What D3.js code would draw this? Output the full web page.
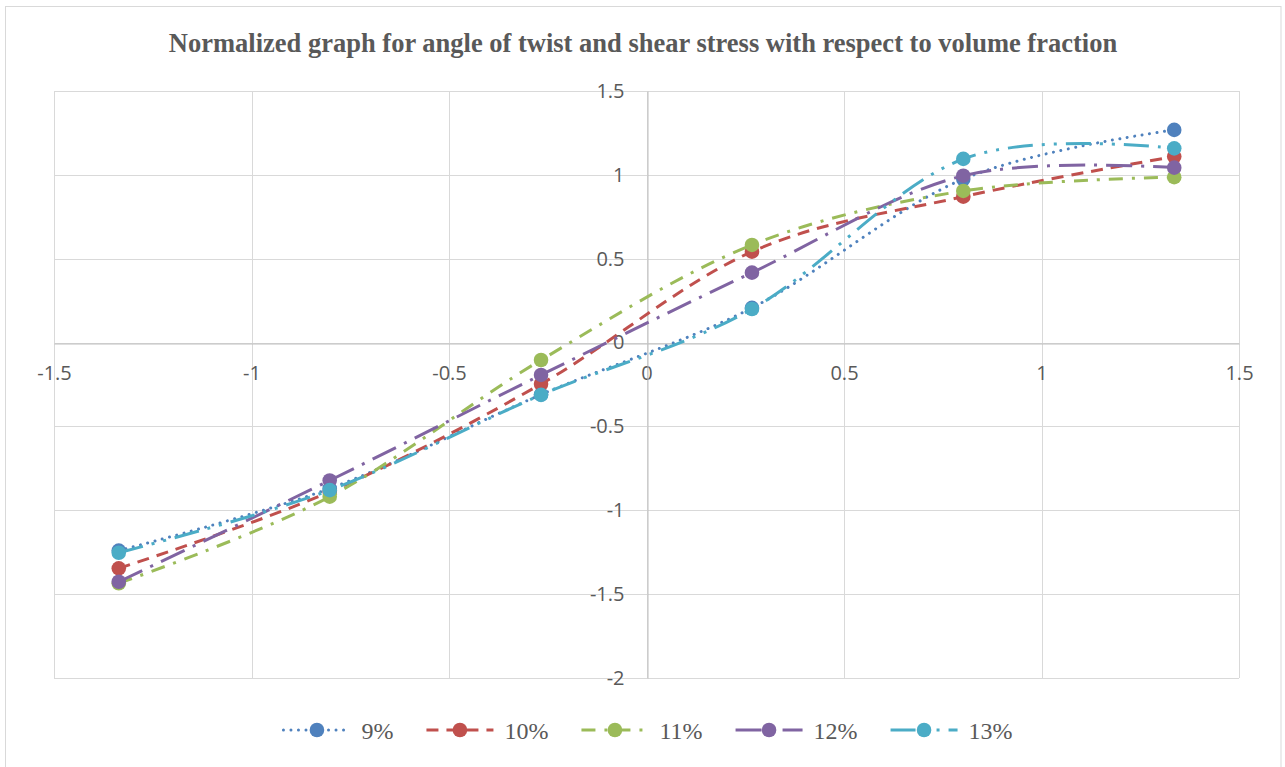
<!DOCTYPE html>
<html>
<head>
<meta charset="utf-8">
<script src="https://cdn.jsdelivr.net/npm/d3@7"></script>
<style>
  body { margin: 0; background: #fff; }
  svg { display: block; }
</style>
</head>
<body>
<div id="chart"></div>
<script>
// normalized volume fraction (shared x for every series)
const xValues = [-1.336, -0.802, -0.267, 0.267, 0.802, 1.336]

const seriesNames = ['9%', '10%', '11%', '12%', '13%']
const values9 = [-1.240, -0.870, -0.310, 0.207, 0.975, 1.268]
const values10 = [-1.346, -0.890, -0.247, 0.542, 0.870, 1.109]
const values11 = [-1.435, -0.919, -0.104, 0.582, 0.904, 0.986]
const values12 = [-1.426, -0.822, -0.193, 0.417, 0.995, 1.043]
const values13 = [-1.253, -0.880, -0.312, 0.200, 1.095, 1.158]

const xTicks = [-1.5, -1, -0.5, 0, 0.5, 1, 1.5]
const yTicks = [-2, -1.5, -1, -0.5, 0, 0.5, 1, 1.5]

const title = 'Normalized graph for angle of twist and shear stress with respect to volume fraction'

const colors = ['#4F81BD', '#C0504D', '#9BBB59', '#8064A2', '#4BACC6']
const dashes = ['0.01 7.5', '12 8', '14 9 3 9', '26 9 3 9', '25 9 3 9 3 9']
const caps = ['round', 'butt', 'butt', 'butt', 'butt']

const series = [values9, values10, values11, values12, values13].map(function (vals, i) {
  return { name: seriesNames[i], points: vals.map(function (v, j) { return { x: xValues[j], y: v } }) }
})

const W = 1285
const H = 767
const plot = { left: 54, right: 1239, top: 91, bottom: 678 }

const svg = d3.select('#chart')
  .append('svg')
  .attr('width', W)
  .attr('height', H)

svg.append('rect')
  .attr('x', 5.5)
  .attr('y', 6.5)
  .attr('width', 1275.5)
  .attr('height', H)
  .attr('fill', '#fff')
  .attr('stroke', '#D9D9D9')
  .attr('stroke-width', 1)

svg.append('text')
  .attr('x', 643)
  .attr('y', 52)
  .attr('text-anchor', 'middle')
  .attr('font-family', '"Liberation Serif", "Times New Roman", serif')
  .attr('font-weight', 'bold')
  .attr('font-size', 26.5)
  .attr('fill', '#595959')
  .text(title)

const x = d3.scaleLinear().domain([-1.5, 1.5]).range([plot.left, plot.right])
const y = d3.scaleLinear().domain([-2, 1.5]).range([plot.bottom, plot.top])

// gridlines
svg.append('g')
  .selectAll('line')
  .data(xTicks)
  .join('line')
  .attr('x1', function (d) { return Math.round(x(d)) + 0.5 })
  .attr('x2', function (d) { return Math.round(x(d)) + 0.5 })
  .attr('y1', plot.top)
  .attr('y2', plot.bottom)
  .attr('stroke', '#D9D9D9')

svg.append('g')
  .selectAll('line')
  .data(yTicks)
  .join('line')
  .attr('y1', function (d) { return Math.round(y(d)) + 0.5 })
  .attr('y2', function (d) { return Math.round(y(d)) + 0.5 })
  .attr('x1', plot.left)
  .attr('x2', plot.right)
  .attr('stroke', '#D9D9D9')

// axes cross at zero
const xAxis = svg.append('g')
  .attr('transform', 'translate(0,' + (Math.round(y(0)) + 0.5) + ')')
  .call(d3.axisBottom(x).tickValues(xTicks).tickSize(0).tickPadding(22).tickFormat(d3.format('')))
const yAxis = svg.append('g')
  .attr('transform', 'translate(' + (Math.round(x(0)) + 0.5) + ',0)')
  .call(d3.axisLeft(y).tickValues(yTicks).tickSize(0).tickPadding(23).tickFormat(d3.format('')))

;[xAxis, yAxis].forEach(function (a) {
  a.select('.domain').attr('stroke', '#BFBFBF').attr('stroke-width', 1)
  a.selectAll('text')
    .attr('font-family', '"Open Sans", sans-serif')
    .attr('font-size', 20)
    .attr('fill', '#595959')
})
xAxis.selectAll('.tick text').text(function (d) { return d < 0 ? '-' + Math.abs(d) : d })
yAxis.selectAll('.tick text').text(function (d) { return d < 0 ? '-' + Math.abs(d) : d })

const line = d3.line()
  .x(function (d) { return x(d.x) })
  .y(function (d) { return y(d.y) })
  .curve(d3.curveCardinal.tension(0))

series.forEach(function (s, i) {
  const g = svg.append('g')
  g.append('path')
    .datum(s.points)
    .attr('fill', 'none')
    .attr('stroke', colors[i])
    .attr('stroke-width', 3)
    .attr('stroke-dasharray', dashes[i])
    .attr('stroke-linecap', caps[i])
    .attr('d', line)
  g.selectAll('circle')
    .data(s.points)
    .join('circle')
    .attr('cx', function (d) { return x(d.x) })
    .attr('cy', function (d) { return y(d.y) })
    .attr('r', 7.3)
    .attr('fill', colors[i])
})

// legend
const legend = svg.append('g')
let lx = 0
series.forEach(function (s, i) {
  const item = legend.append('g').attr('transform', 'translate(' + lx + ',0)')
  item.append('line')
    .attr('x1', 0)
    .attr('x2', 67)
    .attr('stroke', colors[i])
    .attr('stroke-width', 3)
    .attr('stroke-dasharray', dashes[i])
    .attr('stroke-linecap', caps[i])
  item.append('circle')
    .attr('cx', 33.5)
    .attr('r', 7.3)
    .attr('fill', colors[i])
  const t = item.append('text')
    .attr('x', 78)
    .attr('y', 8.5)
    .attr('font-family', '"Liberation Serif", "Times New Roman", serif')
    .attr('font-size', 24)
    .attr('fill', '#595959')
    .text(s.name)
  lx += 78 + t.node().getComputedTextLength() + 33
})
const legendWidth = lx - 33
legend.attr('transform', 'translate(' + (648 - legendWidth / 2) + ',730)')
</script>
</body>
</html>
